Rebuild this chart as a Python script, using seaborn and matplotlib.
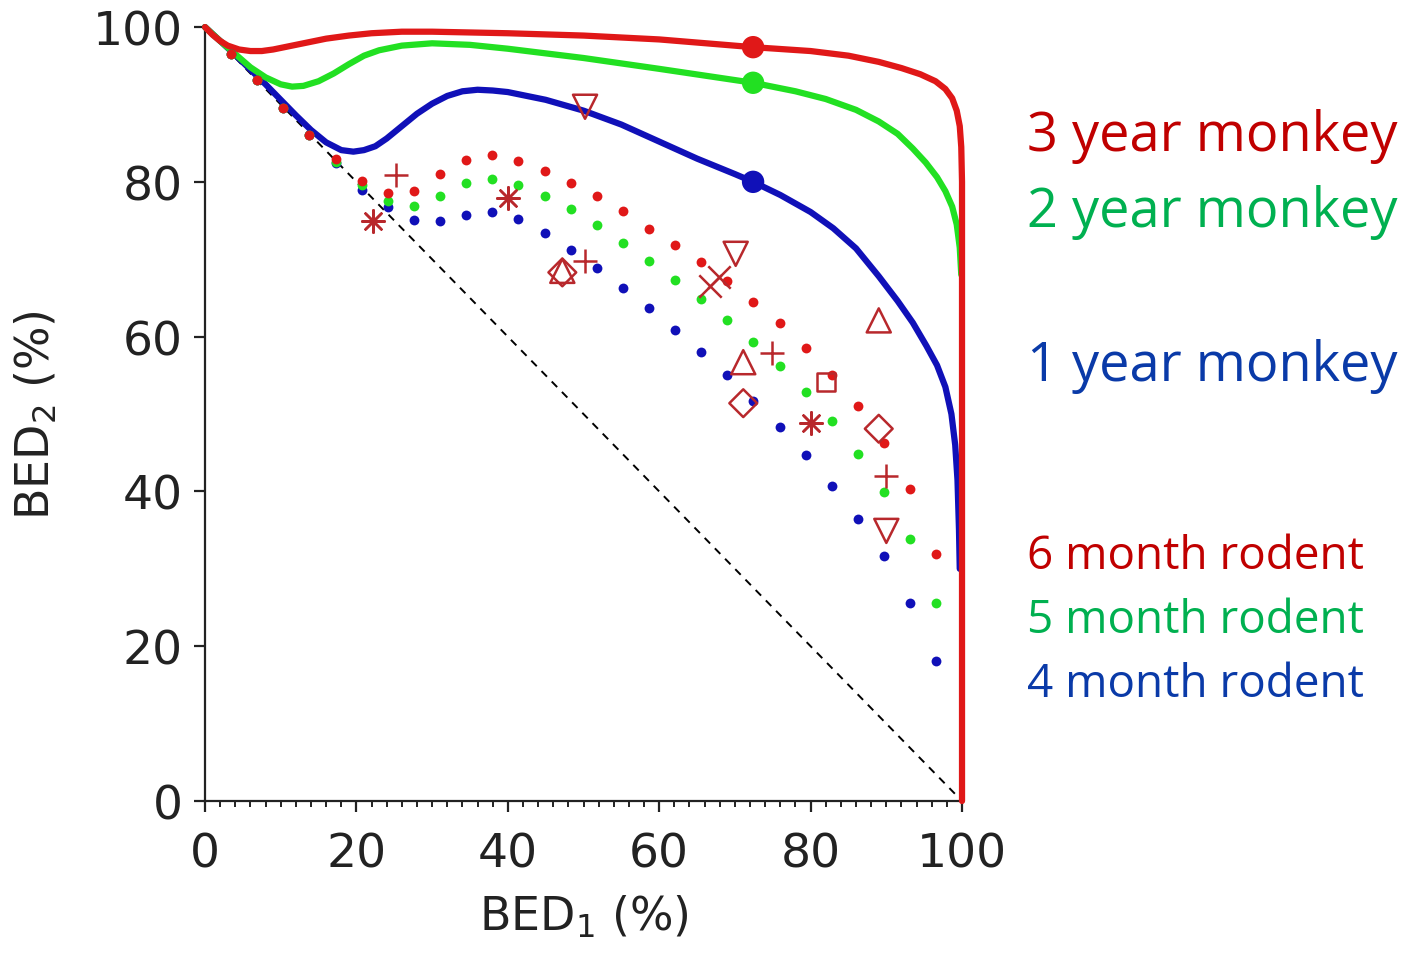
import numpy as np
import pandas as pd
import matplotlib
matplotlib.use("Agg")
import matplotlib.pyplot as plt
import seaborn as sns
from matplotlib.ticker import MultipleLocator

# monkey model curves (BED1 %, BED2 %)
red_x = [0, 1, 2, 3, 4.5, 6, 7.5, 9, 11, 13, 16, 19, 22, 26, 30, 35, 40, 50, 60, 72.4, 80, 85, 89,
         92, 94.5, 96.5, 97.8, 98.7, 99.3, 99.7, 99.9, 100, 100]
red_y = [100, 99.0, 98.2, 97.6, 97.1, 96.9, 96.9, 97.1, 97.5, 97.9, 98.5, 98.9, 99.2, 99.4, 99.4, 99.3,
         99.2, 98.9, 98.4, 97.4, 96.9, 96.3, 95.5, 94.7, 93.9, 93.0, 92.0, 90.8, 89.2, 87.2, 84.5, 80, 0]
green_x = [0, 2, 4, 6, 8, 10, 11.5, 13, 15, 17, 19, 21, 23, 26, 30, 35, 40, 50, 60, 72.4, 78, 82, 86,
           89, 91.5, 93.5, 95.2, 96.7, 97.8, 98.7, 99.3, 99.7, 99.9]
green_y = [100, 98.2, 96.5, 94.8, 93.5, 92.6, 92.3, 92.4, 93.0, 94.0, 95.2, 96.3, 97.0, 97.6, 97.9,
           97.7, 97.2, 96.0, 94.6, 92.8, 91.7, 90.7, 89.3, 87.8, 86.2, 84.3, 82.5, 80.6, 78.8, 76.8,
           74.5, 71.5, 68]
blue_x = [0, 2, 4, 6, 8, 10, 12, 14, 16, 18, 19.6, 21, 22.5, 24, 26, 28, 30, 32, 34, 36, 38, 40, 45,
          50, 55, 60, 65, 70, 72.4, 76, 80, 83, 86, 89, 91.5, 93.5, 95.3, 96.7, 97.8, 98.6, 99.1,
          99.4, 99.6, 99.7]
blue_y = [100, 98.2, 96.4, 94.5, 92.6, 90.6, 88.6, 86.7, 85.1, 84.1, 83.9, 84.1, 84.6, 85.6, 87.2,
          88.8, 90.1, 91.1, 91.7, 91.9, 91.8, 91.6, 90.6, 89.2, 87.4, 85.2, 83.0, 81.0, 80.0, 78.3,
          76.1, 74.0, 71.4, 67.8, 64.6, 61.8, 58.8, 56.3, 53.5, 50.0, 46.0, 41.5, 35, 30]

# filled reference points on the monkey curves
ref_x = [72.4, 72.4, 72.4]
ref_y = [97.4, 92.8, 80.0]

# rodent model dots
rod_x = [3.45, 6.9, 10.35, 13.8, 17.25, 20.7, 24.15, 27.6, 31.05, 34.5, 37.95, 41.4, 44.85, 48.3,
         51.75, 55.2, 58.65, 62.1, 65.55, 69.0, 72.45, 75.9, 79.35, 82.8, 86.25, 89.7, 93.15, 96.6]
rod6_y = [96.5, 93.1, 89.6, 86.1, 82.9, 80.1, 78.6, 78.8, 81.0, 82.8, 83.5, 82.7, 81.4, 79.8,
          78.2, 76.2, 73.9, 71.8, 69.6, 67.2, 64.5, 61.8, 58.5, 55.0, 51.0, 46.3, 40.3, 31.9]
rod5_y = [96.5, 93.1, 89.6, 86.1, 82.6, 79.6, 77.5, 76.9, 78.2, 79.8, 80.4, 79.6, 78.2, 76.5,
          74.4, 72.1, 69.8, 67.3, 64.9, 62.1, 59.3, 56.2, 52.8, 49.1, 44.8, 39.9, 33.9, 25.6]
rod4_y = [96.5, 93.1, 89.6, 86.1, 82.4, 79.0, 76.7, 75.1, 74.9, 75.7, 76.1, 75.2, 73.4, 71.2,
          68.9, 66.3, 63.7, 60.9, 58.0, 55.0, 51.7, 48.3, 44.7, 40.7, 36.4, 31.7, 25.6, 18.1]

# experimental data (open markers)
exp_x = [22.2, 25.2, 40.0, 50.2, 47.2, 47.2, 50.2, 66.7, 67.9, 70.1, 71.1, 71.1, 74.9, 82.0, 80.1, 89.0, 89.0, 90.0, 90.0]
exp_y = [74.9, 80.9, 77.9, 89.7, 68.5, 68.3, 69.8, 66.5, 67.7, 70.7, 56.7, 51.4, 57.9, 54.1, 48.8, 62.1, 48.1, 42.0, 34.9]
exp_m = ["*", "+", "*", "v", "^", "D", "+", "x", "x", "v", "^", "D", "+", "s", "*", "^", "D", "+", "v"]

labels = ["3 year monkey", "2 year monkey", "1 year monkey", "6 month rodent", "5 month rodent", "4 month rodent"]

RED, GREEN, BLUE = "#e01818", "#22e022", "#1010b8"
DARK = "#b8282c"

sns.set_style("ticks")
fig = plt.figure(figsize=(14.11, 9.54), dpi=100)
ax = fig.add_axes([0.1453, 0.1593, 0.5365, 0.8113])

ax.plot([0, 100], [100, 0], ls=(0, (4, 3.5)), color="black", lw=1.4, zorder=1)

for xs, ys, c in [(blue_x, blue_y, BLUE), (green_x, green_y, GREEN), (red_x, red_y, RED)]:
    df = pd.DataFrame({"x": xs, "y": ys})
    sns.lineplot(data=df, x="x", y="y", sort=False, estimator=None, color=c, lw=4.5,
                 ax=ax, zorder=3, clip_on=False)

for ys, c in [(rod4_y, BLUE), (rod5_y, GREEN), (rod6_y, RED)]:
    sns.scatterplot(x=rod_x, y=ys, color=c, s=50, linewidth=0, ax=ax, zorder=4)

sns.scatterplot(x=ref_x, y=ref_y, hue=labels[:3], palette=[RED, GREEN, BLUE], s=260,
                linewidth=0, ax=ax, zorder=5, legend=False)

for x, y, m in zip(exp_x, exp_y, exp_m):
    sz = {"*": 260, "+": 300, "x": 260, "v": 300, "^": 300, "D": 200, "s": 170}[m]
    mk = (8, 2, 0) if m == "*" else m
    if m in ["*", "+", "x"]:
        ax.scatter([x], [y], marker=mk, s=sz, color=DARK, linewidths=1.8, zorder=6)
    else:
        ax.scatter([x], [y], marker=mk, s=sz, facecolors="none", edgecolors=DARK, linewidths=1.8, zorder=6)

ax.set_xlim(0, 100)
ax.set_ylim(0, 100)
ax.xaxis.set_major_locator(MultipleLocator(20))
ax.xaxis.set_minor_locator(MultipleLocator(2))
ax.yaxis.set_major_locator(MultipleLocator(20))
sns.despine(ax=ax)
for s in ["left", "bottom"]:
    ax.spines[s].set_color("#222222")
    ax.spines[s].set_linewidth(1.6)
ax.tick_params(axis="both", which="major", length=8, width=1.6, labelsize=34, colors="#222222")
ax.tick_params(axis="x", which="major", pad=14)
ax.tick_params(axis="y", which="major", pad=8)
ax.tick_params(axis="x", which="minor", length=4, width=1.4, colors="#222222")
ax.set_xlabel(r"BED$_1$ (%)", fontsize=33, color="#222222", labelpad=12)
ax.set_ylabel(r"BED$_2$ (%)", fontsize=33, color="#222222", labelpad=24)

txt_y = [137, 212, 367, 557, 621, 685]
txt_c = ["#c00000", "#00b050", "#0a3aa8", "#c00000", "#00b050", "#0a3aa8"]
txt_s = [39, 39, 39, 33, 33, 33]
for t, yp, c, s in zip(labels, txt_y, txt_c, txt_s):
    fig.text(1027 / 1411, 1 - yp / 954, t, color=c, fontsize=s, family="Open Sans",
             ha="left", va="center")

fig.savefig("out.png", dpi=100)
